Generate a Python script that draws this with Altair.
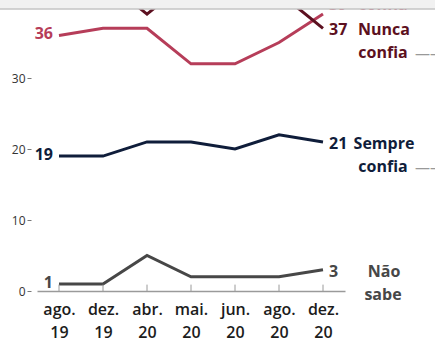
import altair as alt
import pandas as pd

dates = ["ago. 19", "dez. 19", "abr. 20", "mai. 20", "jun. 20", "ago. 20", "dez. 20"]
as_vezes = [36, 37, 37, 32, 32, 35, 39]
nunca = [43, 44, 39, 44, 44, 42, 37]
sempre = [19, 19, 21, 21, 20, 22, 21]
nao_sabe = [1, 1, 5, 2, 2, 2, 3]

series = ["Às vezes confia", "Nunca confia", "Sempre confia", "Não sabe"]
label_l1 = ["Às vezes", "Nunca", "Sempre", "Não"]
label_l2 = ["confia", "confia", "confia", "sabe"]
colors = ["#b63d59", "#5c1020", "#0f1d3a", "#474747"]

rows = []
for s, l1, l2, vals in zip(series, label_l1, label_l2, [as_vezes, nunca, sempre, nao_sabe]):
    for i, (d, v) in enumerate(zip(dates, vals)):
        rows.append({"date": d, "value": v, "serie": s, "l1": l1, "l2": l2,
                     "first": i == 0, "last": i == len(dates) - 1})
df = pd.DataFrame(rows)

FONT = "Open Sans"

X = alt.X("date:N", sort=dates, scale=alt.Scale(type="point", padding=0.5),
          axis=alt.Axis(title=None, labelExpr="split(datum.label, ' ')", labelFontSize=16,
                        labelColor="#1c1c1c", labelPadding=10, labelLineHeight=23, ticks=False,
                        domainColor="#9a9a9a", domainWidth=1.5, labelAngle=0, labelFont=FONT,
                        labelFontWeight=600))
Y = alt.Y("value:Q", scale=alt.Scale(domain=[0, 40], nice=False, zero=True),
          axis=alt.Axis(title=None, values=[0, 10, 20, 30], grid=False, domain=False,
                        tickSize=4, tickColor="#777", labelFontSize=12, labelColor="#333",
                        offset=6, labelPadding=2, labelFont=FONT))
C = alt.Color("serie:N", scale=alt.Scale(domain=series, range=colors), legend=None)

base = alt.Chart(df)

lines = base.mark_line(clip=True, strokeWidth=3, strokeJoin="miter").encode(x=X, y=Y, color=C)

ticks = alt.Chart(pd.DataFrame({"date": dates})).mark_rule(color="#9a9a9a", strokeWidth=1).encode(
    x=X, y=alt.datum(0), y2=alt.datum(0.9))

txt = dict(font=FONT, fontSize=16, fontWeight=700)

start = base.transform_filter("datum.first && datum.serie != 'Nunca confia'").mark_text(
    align="right", baseline="middle", dx=-6, dy=-1, **txt).encode(x=X, y=Y, color=C, text="value:Q")

end_filter = "datum.last && datum.serie != 'Às vezes confia'"
end_num = base.transform_filter(end_filter).mark_text(
    align="left", baseline="middle", dx=6, dy=2, **txt).encode(x=X, y=Y, color=C, text="value:Q")
end_l1 = base.transform_filter(end_filter).mark_text(
    align="center", baseline="middle", dx=61, dy=2, **txt).encode(x=X, y=Y, color=C, text="l1:N")
end_l2 = base.transform_filter(end_filter).mark_text(
    align="center", baseline="middle", dx=60, dy=25, **txt).encode(x=X, y=Y, color=C, text="l2:N")
dash = base.transform_filter("datum.last && (datum.serie == 'Nunca confia' || datum.serie == 'Sempre confia')").mark_text(
    align="left", baseline="middle", dx=92, dy=26, font=FONT, fontSize=15, color="#999999").encode(
    x=X, y=Y, text=alt.value("——"))

av_filter = "datum.last && datum.serie == 'Às vezes confia'"
av_num = base.transform_filter(av_filter).mark_text(
    align="left", baseline="middle", dx=6, dy=-9, **txt).encode(x=X, y=Y, color=C, text="value:Q")
av_l2 = base.transform_filter(av_filter).mark_text(
    align="center", baseline="middle", dx=60, dy=-9, **txt).encode(x=X, y=Y, color=C, text="l2:N")
av_l1 = base.transform_filter(av_filter).mark_text(
    align="center", baseline="middle", dx=61, dy=-32, **txt).encode(x=X, y=Y, color=C, text="l1:N")

top_df = pd.DataFrame({"a": [0]})
top_band = alt.Chart(top_df).mark_rect(color="#f1f1f1").encode(
    x=alt.value(-37), x2=alt.value(398), y=alt.value(-7), y2=alt.value(2))
top_line = alt.Chart(top_df).mark_rule(color="#c4c4c4", strokeWidth=1.5).encode(
    x=alt.value(-37), x2=alt.value(398), y=alt.value(2))

chart = alt.layer(lines, ticks, start, end_num, end_l1, end_l2, dash, av_num, av_l2, av_l1,
                  top_band, top_line).properties(
    width=308, height=284,
    padding={"left": 37, "top": 7, "right": 90, "bottom": 54},
    autosize=alt.AutoSizeParams(type="none"),
    background="white",
).configure_view(stroke=None)

chart.save("out.html", embed_options={"renderer": "svg", "actions": False})
